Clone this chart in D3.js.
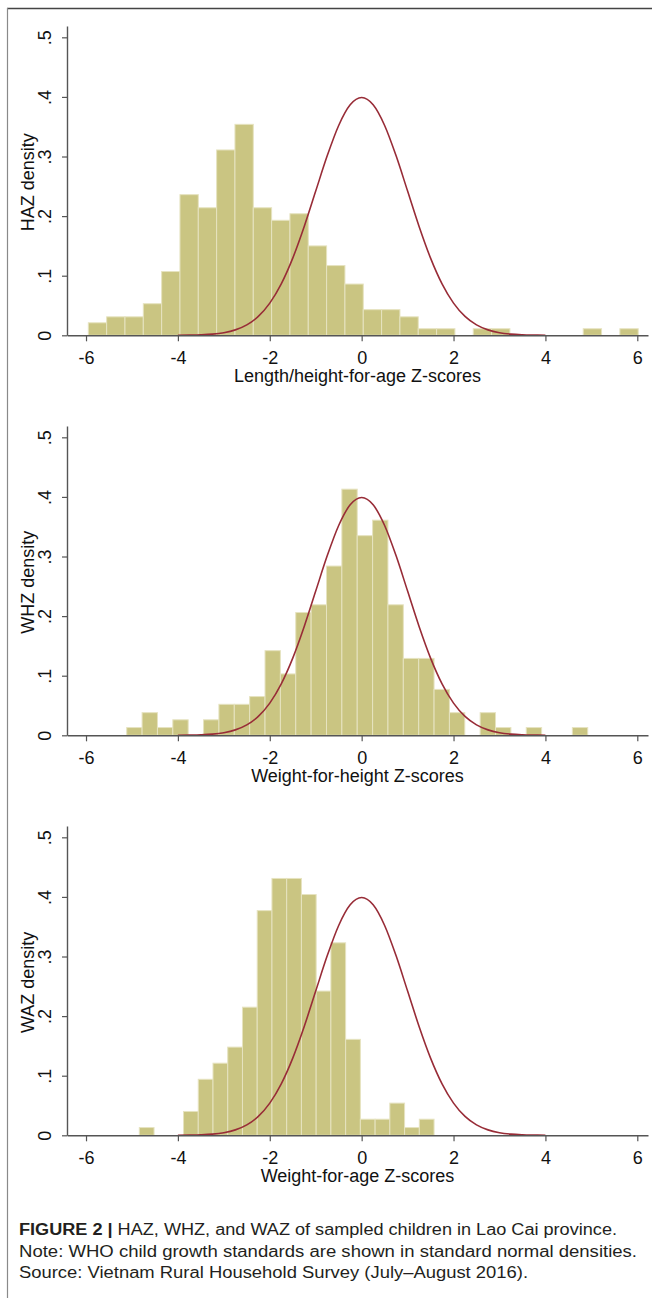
<!DOCTYPE html>
<html>
<head>
<meta charset="utf-8">
<script src="https://cdn.jsdelivr.net/npm/d3@7"></script>
<style>
  body { margin: 0; background: #fff; }
  svg text { font-family: "Liberation Sans", Arial, sans-serif; }
</style>
</head>
<body>
<svg id="chart" width="652" height="1298"></svg>
<script>
// histogram densities (30, 30 and 20 bins)
var hazStart = -5.95, hazWidth = 0.399;
var hazDensity = [0.021, 0.031, 0.031, 0.053, 0.107, 0.236, 0.214, 0.311, 0.354, 0.214,
                  0.193, 0.204, 0.150, 0.117, 0.086, 0.043, 0.043, 0.031, 0.011, 0.011,
                  0, 0.011, 0.011, 0, 0, 0, 0, 0.011, 0, 0.011];

var whzStart = -5.114, whzWidth = 0.3345;
var whzDensity = [0.013, 0.038, 0.013, 0.026, 0, 0.026, 0.052, 0.052, 0.065, 0.142,
                  0.103, 0.206, 0.219, 0.284, 0.413, 0.335, 0.361, 0.219, 0.129, 0.129,
                  0.077, 0.038, 0, 0.038, 0.013, 0, 0.013, 0, 0, 0.013];

var wazStart = -4.84, wazWidth = 0.3208;
var wazDensity = [0.013, 0, 0, 0.040, 0.094, 0.121, 0.148, 0.215, 0.377, 0.431,
                  0.431, 0.404, 0.242, 0.323, 0.161, 0.027, 0.027, 0.054, 0.013, 0.027];

// WHO standard normal curve, points along the red line
var normalX = [-4, -3.75, -3.5, -3.25, -3, -2.75, -2.5, -2.25, -2, -1.75, -1.5, -1.25, -1, -0.75, -0.5, -0.25,
               0, 0.25, 0.5, 0.75, 1, 1.25, 1.5, 1.75, 2, 2.25, 2.5, 2.75, 3, 3.25, 3.5, 3.75, 4];
var normalY = [0.0001, 0.0004, 0.0009, 0.0020, 0.0044, 0.0091, 0.0175, 0.0317, 0.0540, 0.0863, 0.1295, 0.1826,
               0.2420, 0.3011, 0.3521, 0.3867, 0.3989, 0.3867, 0.3521, 0.3011, 0.2420, 0.1826, 0.1295, 0.0863,
               0.0540, 0.0317, 0.0175, 0.0091, 0.0044, 0.0020, 0.0009, 0.0004, 0.0001];

var xTicks = [-6, -4, -2, 0, 2, 4, 6];
var yTicks = [0, 0.1, 0.2, 0.3, 0.4, 0.5];

var panels = [
  {yLabel: "HAZ density", xLabel: "Length/height-for-age Z-scores", start: hazStart, width: hazWidth, dens: hazDensity},
  {yLabel: "WHZ density", xLabel: "Weight-for-height Z-scores", start: whzStart, width: whzWidth, dens: whzDensity},
  {yLabel: "WAZ density", xLabel: "Weight-for-age Z-scores", start: wazStart, width: wazWidth, dens: wazDensity}
];

var captionLines = [
  {bold: "FIGURE 2 | ", rest: "HAZ, WHZ, and WAZ of sampled children in Lao Cai province."},
  {bold: "", rest: "Note: WHO child growth standards are shown in standard normal densities."},
  {bold: "", rest: "Source: Vietnam Rural Household Survey (July\u2013August 2016)."}
];

var svg = d3.select("#chart");

// frame (top and left rules)
svg.append("line").attr("x1", 7).attr("x2", 652).attr("y1", 8.5).attr("y2", 8.5)
  .attr("stroke", "#444").attr("stroke-width", 1.5);
svg.append("line").attr("x1", 7.5).attr("x2", 7.5).attr("y1", 8).attr("y2", 1298)
  .attr("stroke", "#8a8a8a").attr("stroke-width", 1.2);

var x = d3.scaleLinear().domain([-6.414, 6.233]).range([67, 648]);
var y = d3.scaleLinear().domain([0, 0.519]).range([335.3, 26]);

var fmt = function(d) { return d === 0 ? "0" : d3.format(".1f")(d).replace(/^0/, ""); };

var line = d3.line()
  .x(function(d, i) { return x(normalX[i]); })
  .y(function(d) { return y(d); })
  .curve(d3.curveMonotoneX);

panels.forEach(function(p, pi) {
  var g = svg.append("g").attr("transform", "translate(0," + (pi * 400) + ")");

  var bins = p.dens.map(function(d, i) {
    return {x0: p.start + i * p.width, x1: p.start + (i + 1) * p.width, v: d};
  }).filter(function(b) { return b.v > 0; });

  g.selectAll("rect.bar")
    .data(bins)
    .enter().append("rect")
      .attr("class", "bar")
      .attr("x", function(b) { return x(b.x0); })
      .attr("width", function(b) { return x(b.x1) - x(b.x0); })
      .attr("y", function(b) { return y(b.v); })
      .attr("height", function(b) { return y(0) - y(b.v); })
      .attr("fill", "#cac582")
      .attr("stroke", "#e6e3c0")
      .attr("stroke-width", 1);

  g.append("path")
    .datum(normalY)
    .attr("d", line)
    .attr("fill", "none")
    .attr("stroke", "#982c37")
    .attr("stroke-width", 1.6);

  var ya = g.append("g")
    .attr("transform", "translate(67,0)")
    .call(d3.axisLeft(y).tickValues(yTicks).tickFormat(fmt).tickSize(5).tickSizeOuter(0));
  ya.selectAll("text")
    .attr("transform", "rotate(-90)")
    .attr("x", 0).attr("y", -16).attr("dy", 0)
    .attr("text-anchor", "middle")
    .attr("font-size", "18px").attr("fill", "#111");

  var xa = g.append("g")
    .attr("transform", "translate(0," + y(0) + ")")
    .call(d3.axisBottom(x).tickValues(xTicks).tickFormat(function(d) { return String(d); })
      .tickSize(6).tickSizeOuter(0));
  xa.selectAll("text")
    .attr("y", 28.5).attr("dy", 0)
    .attr("font-size", "18px").attr("fill", "#111");

  [ya, xa].forEach(function(a) {
    a.select(".domain").attr("stroke", "#555").attr("stroke-width", 1.4);
    a.selectAll(".tick line").attr("stroke", "#555").attr("stroke-width", 1.2);
  });

  g.append("text")
    .attr("transform", "translate(33.5," + (y(0.25) - 4) + ") rotate(-90)")
    .attr("text-anchor", "middle")
    .attr("font-size", "18px").attr("fill", "#111")
    .text(p.yLabel);

  g.append("text")
    .attr("x", (67 + 648) / 2).attr("y", 382)
    .attr("text-anchor", "middle")
    .attr("font-size", "18px").attr("fill", "#111")
    .text(p.xLabel);
});

// caption
var capWidths = [598, 618, 509];
captionLines.forEach(function(c, i) {
  var t = svg.append("text")
    .attr("x", 19).attr("y", 1235 + i * 21.5)
    .attr("font-size", "16px").attr("fill", "#231f20")
    .attr("textLength", capWidths[i])
    .attr("lengthAdjust", "spacingAndGlyphs");
  if (c.bold) t.append("tspan").attr("font-weight", "bold").text(c.bold);
  t.append("tspan").text(c.rest);
});
</script>
</body>
</html>
